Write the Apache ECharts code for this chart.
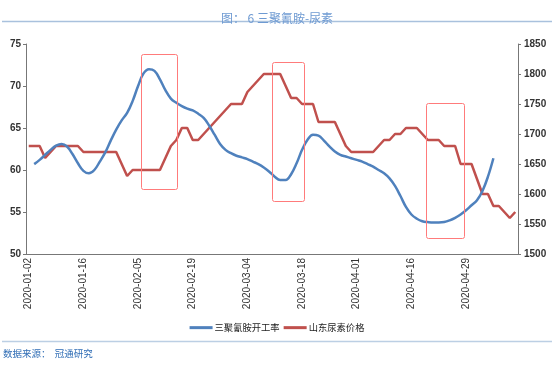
<!DOCTYPE html>
<html>
<head>
<meta charset="utf-8">
<script src="https://cdn.jsdelivr.net/npm/echarts@6/dist/echarts.min.js"></script>
<style>html,body{margin:0;padding:0;background:#fff;}#c{width:554px;height:365px;}</style>
</head>
<body>
<div id="c"></div>
<script>
var dates = [
 '2020-01-02','2020-01-03','2020-01-06','2020-01-07','2020-01-08','2020-01-09','2020-01-10','2020-01-13','2020-01-14','2020-01-15',
 '2020-01-16','2020-01-17','2020-01-19','2020-01-20','2020-01-21','2020-01-22','2020-01-23','2020-01-24','2020-02-03','2020-02-04',
 '2020-02-05','2020-02-06','2020-02-07','2020-02-10','2020-02-11','2020-02-12','2020-02-13','2020-02-14','2020-02-17','2020-02-18',
 '2020-02-19','2020-02-20','2020-02-21','2020-02-24','2020-02-25','2020-02-26','2020-02-27','2020-02-28','2020-03-02','2020-03-03',
 '2020-03-04','2020-03-05','2020-03-06','2020-03-09','2020-03-10','2020-03-11','2020-03-12','2020-03-13','2020-03-16','2020-03-17',
 '2020-03-18','2020-03-19','2020-03-20','2020-03-23','2020-03-24','2020-03-25','2020-03-26','2020-03-27','2020-03-30','2020-03-31',
 '2020-04-01','2020-04-02','2020-04-03','2020-04-07','2020-04-08','2020-04-09','2020-04-10','2020-04-13','2020-04-14','2020-04-15',
 '2020-04-16','2020-04-17','2020-04-20','2020-04-21','2020-04-22','2020-04-23','2020-04-24','2020-04-26','2020-04-27','2020-04-28',
 '2020-04-29','2020-04-30','2020-05-06','2020-05-07','2020-05-08','2020-05-09','2020-05-11','2020-05-12','2020-05-13','2020-05-14'
];
var melamineRate = [
 null,60.7,61.2,61.8,62.4,62.9,63.1,62.8,61.9,60.8,
 59.9,59.6,60.0,61.0,62.1,63.5,64.8,65.9,66.8,68.2,
 70.0,71.5,72.0,71.8,70.8,69.5,68.5,68.0,67.6,67.3,
 67.1,66.7,66.2,65.3,64.2,63.1,62.4,62.0,61.7,61.5,
 61.3,61.0,60.7,60.3,59.8,59.2,58.8,58.8,59.5,60.8,
 62.4,63.6,64.2,64.1,63.5,62.8,62.2,61.8,61.6,61.4,
 61.2,61.0,60.7,60.4,60.0,59.6,59.0,58.1,56.9,55.6,
 54.7,54.2,53.9,53.8,53.75,53.75,53.8,54.0,54.3,54.7,
 55.2,55.8,56.4,57.5,59.2,61.4,null,null,null,null
];
var ureaPrice = [
 1680,1680,1680,1660,1670,1680,1680,1680,1680,1680,
 1670,1670,1670,1670,1670,1670,1670,1650,1630,1640,
 1640,1640,1640,1640,1640,1660,1680,1690,1710,1710,
 1690,1690,1700,1710,1720,1730,1740,1750,1750,1750,
 1770,1780,1790,1800,1800,1800,1800,1780,1760,1760,
 1750,1750,1750,1720,1720,1720,1720,1700,1680,1670,
 1670,1670,1670,1670,1680,1690,1690,1700,1700,1710,
 1710,1710,1700,1690,1690,1690,1680,1680,1680,1650,
 1650,1650,1625,1600,1600,1580,1580,1570,1560,1570
];
var seriesNames = ['三聚氰胺开工率','山东尿素价格'];
var titleText = '图： 6 三聚氰胺-尿素';
var sourceText = '数据来源：  冠通研究';

var chart = echarts.init(document.getElementById('c'), null, {renderer:'canvas'});
var lbl = {color:'#333', fontSize:10, fontFamily:'Liberation Sans, Arial, sans-serif', fontWeight:'bold'};
var boxStyle = {fill:'none', stroke:'#ff7b7b', lineWidth:1};
chart.setOption({
  animation:false,
  backgroundColor:'#fff',
  title:{text:titleText, left:'center', top:7, textStyle:{color:'#6e9ad2', fontSize:12, fontWeight:'normal', fontFamily:'Noto Sans CJK SC'}},
  grid:{left:26, right:36, top:44, bottom:111, containLabel:false},
  legend:{top:318, left:'center', itemWidth:23, itemHeight:3, itemGap:4, icon:'rect',
    textStyle:{color:'#222', fontSize:9.3, fontFamily:'Noto Sans CJK SC', padding:[0,0,0,-3]}, data:seriesNames},
  xAxis:{type:'category', data:dates, boundaryGap:true,
    axisLine:{lineStyle:{color:'#777', width:1}},
    axisTick:{interval:9, length:4, lineStyle:{color:'#777'}},
    axisLabel:Object.assign({interval:9, rotate:90, margin:4}, lbl, {fontWeight:'normal'})},
  yAxis:[
    {type:'value', min:50, max:75, interval:5, position:'left',
     axisLine:{show:true, lineStyle:{color:'#777'}}, axisTick:{show:true, length:3, lineStyle:{color:'#777'}},
     splitLine:{show:false}, axisLabel:Object.assign({margin:5}, lbl)},
    {type:'value', min:1500, max:1850, interval:50, position:'right',
     axisLine:{show:true, lineStyle:{color:'#777'}}, axisTick:{show:true, length:3, lineStyle:{color:'#777'}},
     splitLine:{show:false}, axisLabel:Object.assign({margin:6, formatter:function(v){return String(v);}}, lbl)}
  ],
  series:[
    {name:seriesNames[0], type:'line', yAxisIndex:0, data:melamineRate, smooth:0.4, showSymbol:false, symbol:'none',
     connectNulls:false, lineStyle:{color:'#4f81bd', width:2.5}, itemStyle:{color:'#4f81bd'}, z:3},
    {name:seriesNames[1], type:'line', yAxisIndex:1, data:ureaPrice, showSymbol:false, symbol:'none',
     lineStyle:{color:'#c0504d', width:2.5}, itemStyle:{color:'#c0504d'}, z:2}
  ],
  graphic:[
    {type:'line', shape:{x1:2, y1:21.5, x2:552, y2:21.5}, style:{stroke:'#a9c1dd', lineWidth:1.5}},
    {type:'line', shape:{x1:2, y1:341.5, x2:552, y2:341.5}, style:{stroke:'#bccfe4', lineWidth:1.5}},
    {type:'text', left:3, top:349, style:{text:sourceText, fill:'#2f6db5', fontSize:9.5, fontFamily:'Noto Sans CJK SC'}},
    {type:'rect', shape:{x:141.5, y:54.5, width:36, height:135, r:2}, style:boxStyle, z:10},
    {type:'rect', shape:{x:272.5, y:62.5, width:32, height:139, r:2}, style:boxStyle, z:10},
    {type:'rect', shape:{x:426.5, y:103.5, width:38, height:135, r:2}, style:boxStyle, z:10}
  ]
});
</script>
</body>
</html>
